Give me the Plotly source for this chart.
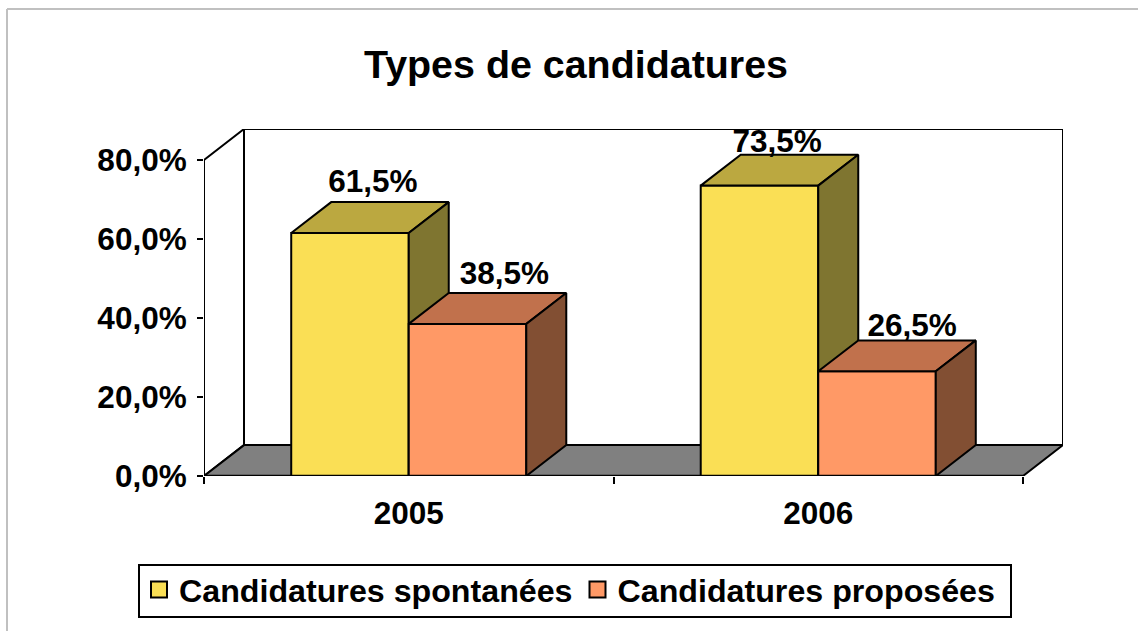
import plotly.graph_objects as go

categories = ["2005", "2006"]
spontanees = [61.5, 73.5]
proposees = [38.5, 26.5]
series_names = ["Candidatures spontanées", "Candidatures proposées"]
y_ticks = [0, 20, 40, 60, 80]
y_tick_labels = ["0,0%", "20,0%", "40,0%", "60,0%", "80,0%"]
title_text = "Types de candidatures"

W, H = 1138, 631
L, R, T, B = 204, 1063, 129, 476
FONT = "Liberation Sans"
y_top = 80.0
unit_x = 409.5
unit_y = (B - 159) / y_top
dx = 40 / unit_x
dy = 31 / unit_y
bw = 0.287
centers = [0.5 + i for i in range(len(categories))]
x_max = len(categories) + dx
y_max = y_top + dy

Y_FILL, Y_TOP, Y_SIDE = "#FADF55", "#BBA840", "#7F7530"
O_FILL, O_TOP, O_SIDE = "#FF9966", "#C1714C", "#824F33"
INK = "#000000"
fig = go.Figure()


def poly(xs, ys, fill, ax=("x", "y"), width=2):
    fig.add_trace(go.Scatter(
        x=xs + xs[:1], y=ys + ys[:1], mode="lines", fill="toself", fillcolor=fill,
        line=dict(color=INK, width=width), xaxis=ax[0], yaxis=ax[1],
        showlegend=False, hoverinfo="skip", cliponaxis=False))


# walls and floor
poly([dx, x_max, x_max, dx], [dy, dy, y_max, y_max], "#FFFFFF")
poly([0, dx, dx, 0], [0, dy, y_max, y_top], "#FFFFFF")
poly([0, len(categories), x_max, dx], [0, 0, dy, dy], "#808080")


def series(vals, name, fill, top, side, offset, ax):
    fig.add_trace(go.Bar(
        x=centers, y=vals, width=bw, offset=offset, marker=dict(color=fill, line=dict(color=INK, width=2)),
        xaxis=ax[0], yaxis=ax[1], showlegend=False, hoverinfo="skip"))
    for c, v in zip(centers, vals):
        x0 = c + offset
        x1 = x0 + bw
        poly([x0, x1, x1 + dx, x0 + dx], [v, v, v + dy, v + dy], top, ax)
        poly([x1, x1 + dx, x1 + dx, x1], [0, dy, v + dy, v], side, ax)
    fig.add_trace(go.Scatter(
        x=[None], y=[None], mode="markers", name=name, xaxis=ax[0], yaxis=ax[1],
        marker=dict(symbol="square", size=16, color=fill, line=dict(color=INK, width=2))))


series(spontanees, series_names[0], Y_FILL, Y_TOP, Y_SIDE, -bw, ("x2", "y2"))
series(proposees, series_names[1], O_FILL, O_TOP, O_SIDE, 0.0, ("x3", "y3"))

# y axis and baseline, in front of the floor
fig.add_trace(go.Scatter(x=[0, 0], y=[0, y_top], mode="lines", line=dict(color=INK, width=2),
                         xaxis="x3", yaxis="y3", showlegend=False, hoverinfo="skip", cliponaxis=False))
fig.add_trace(go.Scatter(x=[0, len(categories)], y=[0, 0], mode="lines", line=dict(color=INK, width=2.5),
                         xaxis="x3", yaxis="y3", showlegend=False, hoverinfo="skip", cliponaxis=False))

# value labels (clipped by the plot top, as in the reference)
lx = [centers[0] - bw / 2 + 0.056, centers[1] - bw / 2 + 0.043,
      centers[0] + bw / 2 + 0.090, centers[1] + bw / 2 + 0.086]
ly = [spontanees[0] + 12.3, spontanees[1] + 10.4, proposees[0] + 12.2, proposees[1] + 10.9]
lt = [f"{v:.1f}%".replace(".", ",") for v in spontanees + proposees]
fig.add_trace(go.Scatter(
    x=lx, y=ly, text=lt, mode="text", textposition="middle center", xaxis="x3", yaxis="y3",
    textfont=dict(family=FONT, size=31.5, color=INK, weight=700),
    showlegend=False, hoverinfo="skip", cliponaxis=True))


def px(x):
    return (x - L) / (R - L)


def py(y):
    return (B - y) / (B - T)


shapes = [
    dict(type="line", xref="paper", yref="paper", x0=px(7), x1=px(7), y0=py(H), y1=py(9),
         line=dict(color="#C0C0C0", width=2), layer="below"),
    dict(type="line", xref="paper", yref="paper", x0=px(7), x1=px(W), y0=py(9), y1=py(9),
         line=dict(color="#C0C0C0", width=2), layer="below"),
    dict(type="rect", xref="paper", yref="paper", x0=px(139), x1=px(1011), y0=py(617), y1=py(565),
         line=dict(color=INK, width=2), fillcolor="#FFFFFF", layer="below"),
]

tick_font = dict(family=FONT, size=31.5, color=INK, weight=700)
fig.update_layout(
    width=W, height=H, autosize=False,
    margin=dict(l=L, r=W - R, t=T, b=H - B, pad=0),
    paper_bgcolor="#FFFFFF", plot_bgcolor="rgba(0,0,0,0)",
    barmode="overlay", shapes=shapes,
    title=dict(text=title_text, x=576 / W, xanchor="center", y=1 - 64 / H, yanchor="middle",
               font=dict(family=FONT, size=39.4, color=INK, weight=700)),
    xaxis=dict(range=[0, x_max], tickmode="array", tickvals=centers, ticktext=categories, ticks="",
               showgrid=False, zeroline=False, showline=False, tickfont=tick_font, ticklabelstandoff=15,
               minor=dict(tickmode="array", tickvals=[0, 1, 2], ticks="outside", ticklen=7, tickwidth=2, tickcolor=INK, showgrid=False)),
    yaxis=dict(range=[0, y_max], tickmode="array", tickvals=y_ticks, ticktext=y_tick_labels, ticks="outside",
               ticklen=6, tickwidth=2, tickcolor=INK, showgrid=False, zeroline=False, showline=False,
               tickfont=tick_font, ticklabelstandoff=4),
    xaxis2=dict(range=[0, x_max], overlaying="x", visible=False),
    yaxis2=dict(range=[0, y_max], overlaying="y", visible=False),
    xaxis3=dict(range=[0, x_max], overlaying="x", visible=False),
    yaxis3=dict(range=[0, y_max], overlaying="y", visible=False),
    legend=dict(orientation="h", x=139 / W, xref="container", xanchor="left", y=1 - 562 / H, yref="container", yanchor="top",
                bgcolor="rgba(0,0,0,0)", borderwidth=0,
                font=dict(family=FONT, size=32.2, color=INK, weight=700)),
)
fig.write_html("out.html", config={"displayModeBar": False}, post_script="document.body.style.margin='0';")
